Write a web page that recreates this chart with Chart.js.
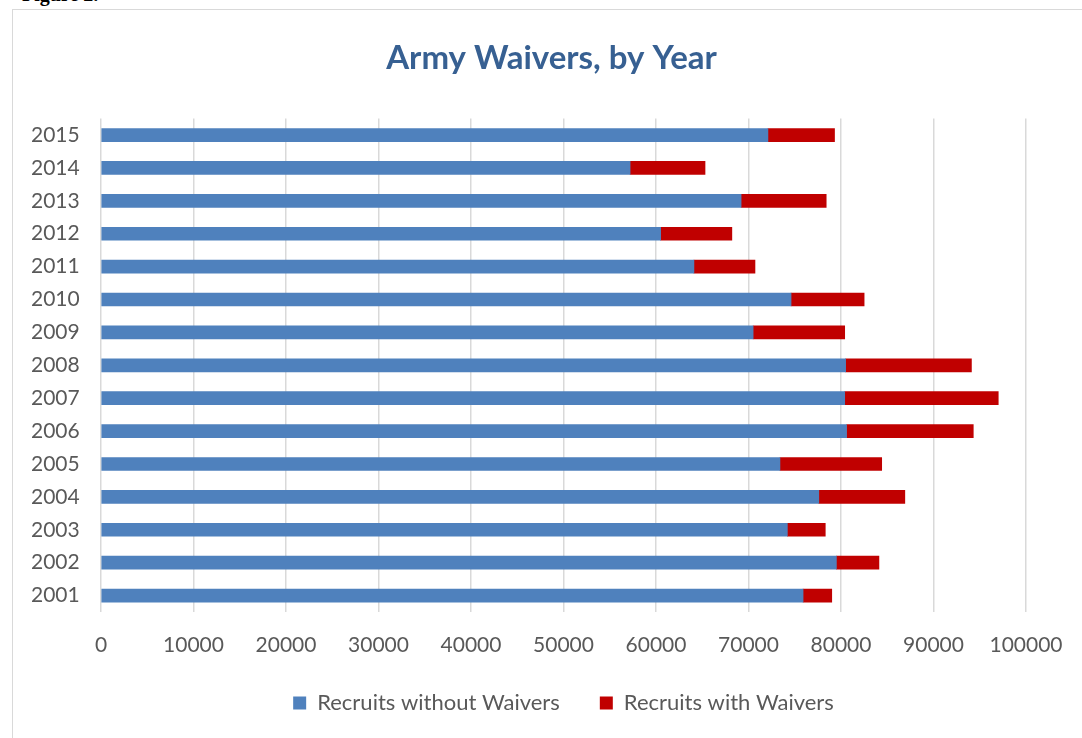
<!DOCTYPE html>
<html lang="en">
<head>
  <meta charset="UTF-8" />
  <title>Army Waivers, by Year</title>
  <script src="https://cdn.jsdelivr.net/npm/chart.js"></script>
  <style>
    html, body {
      margin: 0;
      padding: 0;
      width: 1082px;
      height: 738px;
      overflow: hidden;
      background: #fff;
    }
    .caption {
      position: absolute;
      left: 22px;
      top: -16px;
      font-family: "Liberation Serif", serif;
      font-weight: bold;
      font-size: 20px;
      line-height: 20px;
      color: #000;
    }
    .frame {
      position: absolute;
      left: 12px;
      top: 9px;
      width: 1100px;
      height: 760px;
      border: 1px solid #d9d9d9;
    }
    canvas {
      position: absolute;
      left: 0;
      top: 0;
    }
  </style>
</head>
<body>
  <div class="caption">Figure 2.</div>
  <div class="frame"></div>
  <canvas id="grafico" width="1082" height="738"></canvas>

  <script>
    const years = ["2001", "2002", "2003", "2004", "2005", "2006", "2007", "2008",
                   "2009", "2010", "2011", "2012", "2013", "2014", "2015"];
    const withoutWaivers = [75900, 79500, 74200, 77600, 73400, 80600, 80400, 80500,
                            70500, 74600, 64100, 60500, 69200, 57200, 72100];
    const withWaivers = [3100, 4600, 4100, 9300, 11000, 13700, 16600, 13600,
                         9900, 7900, 6600, 7700, 9200, 8100, 7200];

    const textColor = "#595959";
    const font = "Lato";

    const ctx = document.getElementById("grafico").getContext("2d");
    new Chart(ctx, {
      type: "bar",
      data: {
        labels: years,
        datasets: [
          {
            label: "Recruits without Waivers",
            data: withoutWaivers,
            backgroundColor: "#4f81bd",
            barThickness: 13
          },
          {
            label: "Recruits with Waivers",
            data: withWaivers,
            backgroundColor: "#c00000",
            barThickness: 13
          }
        ]
      },
      options: {
        indexAxis: "y",
        responsive: false,
        animation: false,
        // left padding keeps the title centred on the framed area
        layout: { padding: { left: 77, right: 56, top: 0, bottom: 14 } },
        plugins: {
          title: {
            display: true,
            text: "Army Waivers, by Year",
            color: "#376092",
            font: { family: font, size: 33, weight: "bold" },
            padding: { top: 39, bottom: 40 }
          },
          legend: {
            position: "bottom",
            fullSize: false,
            labels: {
              boxWidth: 13,
              boxHeight: 13,
              padding: 40,
              color: textColor,
              font: { family: font, size: 22 }
            }
          },
          tooltip: { enabled: false }
        },
        scales: {
          x: {
            stacked: true,
            min: 0,
            max: 100000,
            afterFit: function (scale) { scale.height = 40; },
            ticks: {
              stepSize: 10000,
              // mirrored labels are not clipped to the short axis box;
              // the negative padding puts them back under the plot
              mirror: true,
              padding: -46,
              color: textColor,
              font: { family: font, size: 21 },
              callback: function (value) { return String(value); }
            },
            grid: { color: "#d9d9d9", lineWidth: 1.5, drawTicks: false },
            border: { display: false }
          },
          y: {
            stacked: true,
            reverse: true,
            afterFit: function (scale) { scale.width = 24; },
            ticks: {
              mirror: true,
              padding: -70,
              color: textColor,
              font: { family: font, size: 21 }
            },
            grid: { display: false, drawTicks: false },
            border: { display: false }
          }
        }
      }
    });
  </script>
</body>
</html>
